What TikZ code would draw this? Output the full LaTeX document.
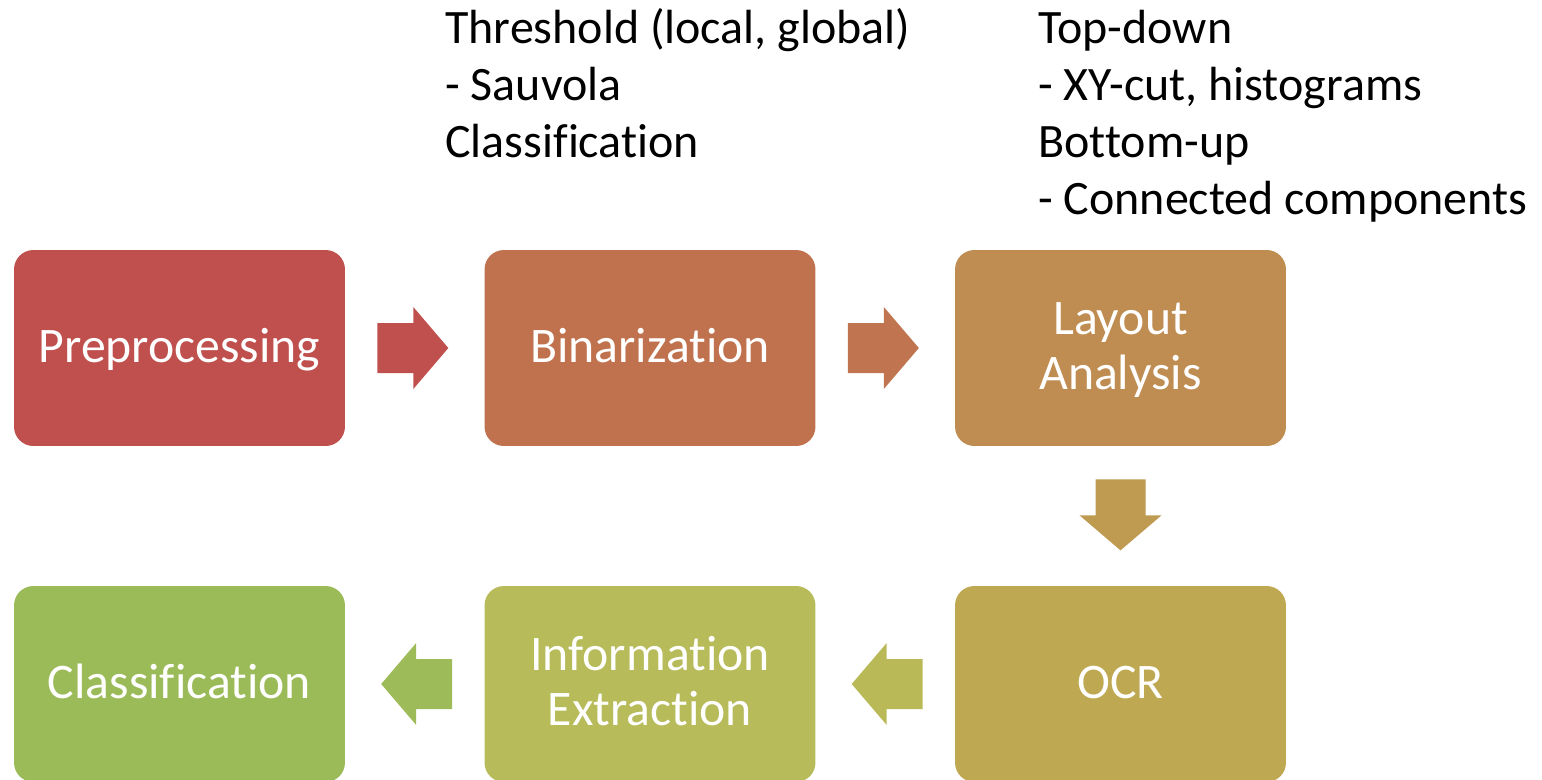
\documentclass[tikz,border=0pt]{standalone}
\usepackage{fontspec}
\setmainfont{Carlito}[Ligatures=NoCommon]
\usetikzlibrary{calc}
% stage fills, red through to green
\definecolor{fillA}{HTML}{C0504D}
\definecolor{fillB}{HTML}{C0724F}
\definecolor{fillC}{HTML}{BF8D52}
\definecolor{fillD}{HTML}{BFA852}
\definecolor{fillE}{HTML}{B7BB5A}
\definecolor{fillF}{HTML}{9BBB59}
% block arrow fills
\definecolor{arrA}{HTML}{C0504D}
\definecolor{arrB}{HTML}{C07450}
\definecolor{arrC}{HTML}{BF9B52}
\definecolor{arrD}{HTML}{B9BA57}
\definecolor{arrE}{HTML}{9EBB59}
\begin{document}
\begin{tikzpicture}[x=0.02cm,y=-0.02cm,
  stage/.style={rectangle, rounded corners=11pt, minimum width=6.62cm,
    minimum height=3.92cm, text=white, align=center, inner sep=0pt,
    font=\fontsize{28.3}{31.5}\selectfont, text height=18pt, text depth=1pt},
  % multi-line text is referenced to its last baseline
  twoline/.style={text height=49.5pt, text depth=2pt},
  note/.style={anchor=base west, inner sep=0pt, align=left,
    font=\fontsize{27.3}{32.3}\selectfont},
  pics/blockarrow/.style={code={
    \fill[#1] (0,-25) -- (36,-25) -- (36,-41) -- (71,0) -- (36,41)
      -- (36,25) -- (0,25) -- cycle;}}
]
\useasboundingbox (0,0) rectangle (1542,779);

% pipeline stages
\node[stage, fill=fillA] (pre) at (179.5,348) {Preprocessing};
\node[stage, fill=fillB] (bin) at (650,348) {Binarization};
\node[stage, twoline, fill=fillC] (lay) at (1120.5,348) {Layout\\Analysis};
\node[stage, fill=fillD] (ocr) at (1120.5,684) {OCR};
\node[stage, twoline, fill=fillE] (inf) at (650,684) {Information\\Extraction};
\node[stage, fill=fillF] (cls) at (179.5,684) {Classification};

% block arrows between the stages
\pic at ($(pre.east)+(32,0)$) {blockarrow=arrA};
\pic at ($(bin.east)+(32,0)$) {blockarrow=arrB};
\pic[rotate=-90] at ($(lay.south)+(0,33)$) {blockarrow=arrC};
\pic[rotate=180] at ($(ocr.west)+(-32,0)$) {blockarrow=arrD};
\pic[rotate=180] at ($(inf.west)+(-32,0)$) {blockarrow=arrE};

% method notes, placed by the baseline of their last line
\node[note] (binnote) at (445,157) {Threshold (local, global)\\- Sauvola\\Classification};
\node[note] (laynote) at (1038,214) {Top-down\\- XY-cut, histograms\\Bottom-up\\- Connected components};
\end{tikzpicture}
\end{document}
